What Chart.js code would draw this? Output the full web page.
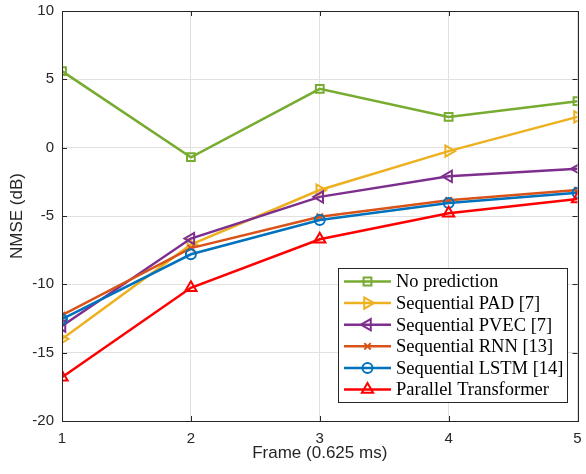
<!DOCTYPE html>
<html>
<head>
<meta charset="utf-8">
<script src="https://cdn.jsdelivr.net/npm/chart.js@4/dist/chart.umd.min.js"></script>
<style>
  html, body { margin: 0; padding: 0; background: #fff; }
</style>
</head>
<body>
<canvas id="c" width="586" height="474"></canvas>
<script>
// Frame index (0.625 ms each)
const frames = [1, 2, 3, 4, 5];

// NMSE in dB per method
const noPrediction   = [5.6, -0.7, 4.3, 2.25, 3.4];
const seqPAD         = [-14.0, -7.1, -3.1, -0.25, 2.25];
const seqPVEC        = [-13.05, -6.65, -3.6, -2.1, -1.55];
const seqRNN         = [-12.25, -7.35, -5.05, -3.85, -3.1];
const seqLSTM        = [-12.55, -7.8, -5.3, -4.05, -3.3];
const parTransformer = [-16.8, -10.25, -6.7, -4.8, -3.75];

const seriesNames = [
  'No prediction',
  'Sequential PAD [7]',
  'Sequential PVEC [7]',
  'Sequential RNN [13]',
  'Sequential LSTM [14]',
  'Parallel Transformer'
];
const seriesValues = [noPrediction, seqPAD, seqPVEC, seqRNN, seqLSTM, parTransformer];

const yTicks = [-20, -15, -10, -5, 0, 5, 10];

const styles = [
  { color: '#77AC30', pointStyle: 'rect',      radius: 5.5, rotation: 0 },
  { color: '#EDB120', pointStyle: 'triangle',  radius: 6.5, rotation: 90 },
  { color: '#7E2F8E', pointStyle: 'triangle',  radius: 6.5, rotation: -90 },
  { color: '#D95319', pointStyle: 'crossRot',  radius: 4.5, rotation: 0 },
  { color: '#0072BD', pointStyle: 'circle',    radius: 5,   rotation: 0 },
  { color: '#FF0000', pointStyle: 'triangle',  radius: 6.5, rotation: 0 }
];

const AXIS = '#262626';
const GRID = '#e1e1e1';
const SANS = '"Liberation Sans", Arial, Helvetica, sans-serif';

const datasets = seriesValues.map((vals, i) => ({
  label: seriesNames[i],
  data: frames.map((f, k) => ({ x: f, y: vals[k] })),
  borderColor: styles[i].color,
  backgroundColor: 'rgba(0,0,0,0)',
  borderWidth: 2.5,
  pointStyle: styles[i].pointStyle,
  pointRadius: styles[i].radius,
  pointRotation: styles[i].rotation,
  pointBorderWidth: 2,
  pointBorderColor: styles[i].color,
  pointBackgroundColor: 'rgba(0,0,0,0)',
  tension: 0,
  order: seriesNames.length - i
}));

// Box outline with inward tick marks on all four sides
const frameTicks = {
  id: 'frameTicks',
  afterDatasetsDraw(chart) {
    const { ctx, chartArea: a, scales } = chart;
    const len = 5;
    ctx.save();
    ctx.strokeStyle = AXIS;
    ctx.lineWidth = 1;
    ctx.beginPath();
    frames.forEach(f => {
      const x = Math.round(scales.x.getPixelForValue(f)) + 0.5;
      ctx.moveTo(x, a.bottom); ctx.lineTo(x, a.bottom - len);
      ctx.moveTo(x, a.top); ctx.lineTo(x, a.top + len);
    });
    yTicks.forEach(v => {
      const y = Math.round(scales.y.getPixelForValue(v)) + 0.5;
      ctx.moveTo(a.left, y); ctx.lineTo(a.left + len, y);
      ctx.moveTo(a.right, y); ctx.lineTo(a.right - len, y);
    });
    ctx.stroke();
    ctx.strokeRect(Math.round(a.left) + 0.5, Math.round(a.top) + 0.5,
                   Math.round(a.right - a.left), Math.round(a.bottom - a.top));
    ctx.restore();
  }
};

// Boxed legend with line + marker samples
const boxLegend = {
  id: 'boxLegend',
  afterDraw(chart) {
    const ctx = chart.ctx;
    const x0 = 338, y0 = 268, w = 229, h = 134;
    ctx.save();
    ctx.fillStyle = '#fff';
    ctx.fillRect(x0, y0, w, h);
    ctx.strokeStyle = AXIS;
    ctx.lineWidth = 1;
    ctx.strokeRect(x0 + 0.5, y0 + 0.5, w, h);
    ctx.font = '18.5px "Liberation Serif", "Times New Roman", serif';
    ctx.textBaseline = 'middle';
    ctx.textAlign = 'left';
    chart.data.datasets.forEach((ds, i) => {
      const y = y0 + 13.5 + i * 21.6;
      ctx.strokeStyle = ds.borderColor;
      ctx.lineWidth = 2.5;
      ctx.beginPath();
      ctx.moveTo(x0 + 6, y);
      ctx.lineTo(x0 + 53, y);
      ctx.stroke();
      ctx.lineWidth = 2;
      ctx.fillStyle = 'rgba(0,0,0,0)';
      Chart.helpers.drawPoint(ctx, {
        pointStyle: ds.pointStyle,
        radius: ds.pointRadius,
        rotation: ds.pointRotation,
        borderWidth: 2
      }, x0 + 29.5, y);
      ctx.fillStyle = '#000';
      ctx.fillText(ds.label, x0 + 58, y + 1);
    });
    ctx.restore();
  }
};

new Chart(document.getElementById('c'), {
  type: 'line',
  data: { datasets },
  options: {
    responsive: false,
    animation: false,
    layout: { padding: { left: 0, right: 4, top: 11, bottom: 0 } },
    plugins: { legend: { display: false }, tooltip: { enabled: false } },
    scales: {
      x: {
        type: 'linear',
        min: 1, max: 5,
        afterBuildTicks: s => { s.ticks = frames.map(v => ({ value: v })); },
        afterFit: s => { s.height = 53; s.paddingLeft = 0; s.paddingRight = 0; },
        grid: { color: GRID, drawTicks: false },
        border: { display: true, color: AXIS },
        ticks: {
          color: AXIS, padding: 9, maxRotation: 0,
          font: { family: SANS, size: 15 }
        },
        title: {
          display: true, text: 'Frame (0.625 ms)', color: AXIS,
          font: { family: SANS, size: 17 },
          padding: { top: 0, bottom: 10.5 }
        }
      },
      y: {
        min: -20, max: 10,
        afterBuildTicks: s => { s.ticks = yTicks.map(v => ({ value: v })); },
        afterFit: s => { s.width = 62; s.paddingTop = 0; s.paddingBottom = 0; },
        grid: { color: GRID, drawTicks: false },
        border: { display: true, color: AXIS },
        ticks: {
          color: AXIS, padding: 8,
          font: { family: SANS, size: 15 }
        },
        title: {
          display: true, text: 'NMSE (dB)', color: AXIS,
          font: { family: SANS, size: 17 },
          padding: { top: 7, bottom: 0 }
        }
      }
    }
  },
  plugins: [frameTicks, boxLegend]
});
</script>
</body>
</html>
